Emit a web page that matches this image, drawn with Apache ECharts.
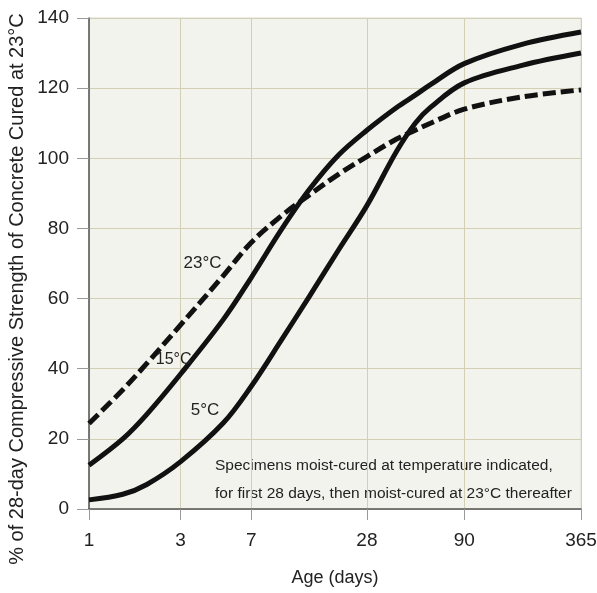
<!DOCTYPE html>
<html>
<head>
<meta charset="utf-8">
<script src="https://cdn.jsdelivr.net/npm/echarts@6/dist/echarts.min.js"></script>
<style>
  html, body { margin: 0; padding: 0; background: #fff; }
  #main { width: 597px; height: 593px; }
</style>
</head>
<body>
<div id="main"></div>
<script>
// age in days (log axis) and strength in % of 28-day strength at 23°C
var ages = [1, 1.5, 2, 3, 5, 7, 10, 14, 20, 28, 40, 50, 60, 90, 180, 365];
var temp23 = [24.4, 34, 41.5, 52.5, 66.5, 76, 83.5, 89.5, 95.5, 100.5, 105.5, 108, 110, 114, 117.5, 119.5];
var temp15 = [12.5, 20, 27, 38.5, 54, 66, 79.5, 91, 101, 108, 114.5, 118, 121, 127, 132.5, 136];
var temp5 = [2.6, 4.2, 7, 13.5, 24.5, 35, 48, 60.5, 74, 86.5, 102, 110, 114.5, 121.5, 126.5, 130];
var xTicks = [1, 3, 7, 28, 90, 365];

var font = "'Liberation Sans', Arial, sans-serif";

var chartDom = document.getElementById('main');
var myChart = echarts.init(chartDom);
var option;

function toPoints(vals) {
    return ages.map(function (a, i) { return [Math.log10(a), vals[i]]; });
}

function tempLabel(text, day, val, size) {
    return {
        symbol: 'circle',
        symbolSize: 1,
        silent: true,
        itemStyle: { color: 'rgba(0,0,0,0)' },
        data: [{
            coord: [Math.log10(day), val],
            label: {
                show: true, position: 'inside', formatter: text,
                color: '#222', fontFamily: font, fontSize: size
            }
        }]
    };
}

option = {
    animation: false,
    textStyle: { fontFamily: font },
    grid: {
        left: 89, right: 16, top: 18, bottom: 84,
        outerBoundsMode: 'none',
        show: true, backgroundColor: '#f3f3ee', borderColor: '#dcdccf', borderWidth: 1
    },
    xAxis: {
        type: 'value',
        min: 0,
        max: Math.log10(365),
        name: 'Age (days)',
        nameLocation: 'middle',
        nameGap: 60,
        nameTextStyle: { fontSize: 18, color: '#222', fontFamily: font },
        axisLine: { lineStyle: { color: '#555', width: 1.5 } },
        axisTick: { show: true, length: 11, lineStyle: { color: '#999' }, customValues: xTicks.map(Math.log10) },
        axisLabel: {
            customValues: xTicks.map(Math.log10),
            margin: 22,
            fontSize: 19, color: '#222', fontFamily: font,
            formatter: function (v) { return String(Math.round(Math.pow(10, v))); }
        },
        splitLine: { show: true, lineStyle: { color: '#d3cfb5', width: 1 } }
    },
    yAxis: {
        type: 'value',
        min: 0,
        max: 140,
        interval: 20,
        axisLine: { show: true, lineStyle: { color: '#555', width: 1.5 } },
        axisTick: { show: true, length: 12, lineStyle: { color: '#999' } },
        axisLabel: { margin: 20, fontSize: 19, color: '#222', fontFamily: font },
        splitLine: { show: true, lineStyle: { color: '#d3cfb5', width: 1 } }
    },
    graphic: [
        {
            type: 'text',
            x: 17,
            y: 289,
            rotation: Math.PI / 2,
            style: {
                text: '% of 28-day Compressive Strength of Concrete Cured at 23°C',
                font: '20px ' + font,
                fill: '#222',
                align: 'center',
                verticalAlign: 'middle'
            }
        },
        {
            type: 'text',
            left: 215,
            top: 452,
            style: {
                text: 'Specimens moist-cured at temperature indicated,\nfor first 28 days, then moist-cured at 23°C thereafter',
                font: '15.5px ' + font,
                fill: '#222',
                lineHeight: 28
            }
        }
    ],
    series: [
        {
            name: '23°C',
            type: 'line',
            smooth: 0.35,
            symbol: 'none',
            data: toPoints(temp23),
            lineStyle: { color: '#111', width: 5, type: [13, 5] },
            markPoint: tempLabel('23°C', 3.9, 70, 17)
        },
        {
            name: '15°C',
            type: 'line',
            smooth: 0.35,
            symbol: 'none',
            data: toPoints(temp15),
            lineStyle: { color: '#111', width: 5 },
            markPoint: tempLabel('15°C', 2.76, 42.5, 16)
        },
        {
            name: '5°C',
            type: 'line',
            smooth: 0.35,
            symbol: 'none',
            data: toPoints(temp5),
            lineStyle: { color: '#111', width: 5 },
            markPoint: tempLabel('5°C', 4.02, 28.2, 17)
        }
    ]
};

option && myChart.setOption(option);
</script>
</body>
</html>
